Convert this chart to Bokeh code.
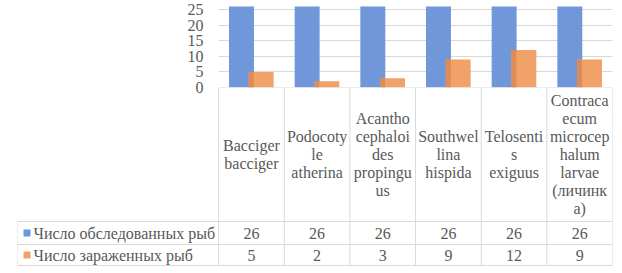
from bokeh.plotting import figure
from bokeh.models import ColumnDataSource, FactorRange, Range1d, FixedTicker
from bokeh.transform import dodge
from bokeh.layouts import column
from bokeh.embed import file_html
from bokeh.resources import INLINE
from bokeh.core.properties import value

# ---- data ----
categories = [
    "Bacciger bacciger",
    "Podocotyle atherina",
    "Acanthocephaloides propinguus",
    "Southwellina hispida",
    "Telosentis exiguus",
    "Contracaecum microcephalum larvae (личинка)",
]
table_labels = [
    "Bacciger\nbacciger",
    "Podocoty\nle\natherina",
    "Acantho\ncephaloi\ndes\npropingu\nus",
    "Southwel\nlina\nhispida",
    "Telosenti\ns\nexiguus",
    "Contraca\necum\nmicrocep\nhalum\nlarvae\n(личинк\na)",
]
series_names = ["Число обследованных рыб", "Число зараженных рыб"]
examined = [26, 26, 26, 26, 26, 26]
infected = [5, 2, 3, 9, 12, 9]
y_ticks = [0, 5, 10, 15, 20, 25]

# ---- style ----
BLUE = "#6f97da"
ORANGE = "#f1a269"
ORANGE_DARK = "#de8c57"
TEXT = "#595959"
GRID = "#d9d9d9"
FONT = "Liberation Serif"
FS = "16px"

W = 614
LEFT_COL_PX = 201      # width of series-label column
CAT_PX = 65.6
CHART_LEFT = 218
OVERLAP = 10           # px of p1's bottom border covered by the (transparent) table

src = ColumnDataSource(dict(cat=categories, examined=examined, infected=infected,
                            label=table_labels,
                            xc=[i + 0.5 for i in range(len(categories))],
                            s1=[str(v) for v in examined],
                            s2=[str(v) for v in infected]))

# ---- top: bar chart ----
p1 = figure(width=W, height=87 + OVERLAP, x_range=FactorRange(factors=categories),
            y_range=Range1d(0, 83 / 3.12), output_backend="svg",
            toolbar_location=None, x_axis_location=None,
            min_border_left=CHART_LEFT, min_border_right=2,
            min_border_top=4, min_border_bottom=OVERLAP, frame_align=False)
p1.outline_line_color = None
p1.xgrid.grid_line_color = None
p1.ygrid.grid_line_color = GRID
p1.yaxis.ticker = FixedTicker(ticks=y_ticks)
p1.yaxis.axis_line_color = None
p1.yaxis.major_tick_line_color = None
p1.yaxis.minor_tick_line_color = None
p1.yaxis.major_tick_out = 0
p1.yaxis.major_label_standoff = 15
p1.yaxis.major_label_text_font = FONT
p1.yaxis.major_label_text_font_size = FS
p1.yaxis.major_label_text_color = TEXT

BW = 0.38
OFF = 0.15
p1.vbar(x=dodge("cat", -OFF, range=p1.x_range), top="examined", width=BW,
        source=src, fill_color=BLUE, line_color=None)
p1.vbar(x=dodge("cat", OFF, range=p1.x_range), top="infected", width=BW,
        source=src, fill_color=ORANGE, line_color=None)
# darker shaded strip on the left edge of the orange bars (Excel shadow look)
strip = 5 / CAT_PX
p1.vbar(x=dodge("cat", OFF - BW / 2 + strip / 2, range=p1.x_range), top="infected",
        width=strip, source=src, fill_color=ORANGE_DARK, line_color=None)

# ---- bottom: data table ----
n = len(categories)
left = -LEFT_COL_PX / CAT_PX
H2 = 186
rows_y = [0, 134, 157, 178]   # header top, header bottom, row1 bottom, row2 bottom

p2 = figure(width=W, height=H2, x_range=Range1d(left, n), y_range=Range1d(H2, 0),
            output_backend="svg", toolbar_location=None,
            x_axis_location=None, y_axis_location=None,
            min_border_left=17, min_border_right=2, min_border_top=0, min_border_bottom=0,
            frame_align=False, styles={"margin-top": f"-{OVERLAP}px"})
p2.outline_line_color = None
p2.background_fill_color = None
p2.border_fill_color = None
p2.grid.visible = False

p2.segment(x0=list(range(n + 1)), x1=list(range(n + 1)),
           y0=[rows_y[0]] * (n + 1), y1=[rows_y[3]] * (n + 1),
           line_color=GRID, line_width=1)
p2.segment(x0=[left], x1=[left], y0=[rows_y[1]], y1=[rows_y[3]], line_color=GRID)
p2.segment(x0=[0], x1=[n], y0=[rows_y[0]], y1=[rows_y[0]], line_color=GRID)
p2.segment(x0=[left] * 3, x1=[n] * 3, y0=rows_y[1:], y1=rows_y[1:], line_color=GRID)

p2.text(x="xc", y=(rows_y[0] + rows_y[1]) / 2, text="label", source=src,
        text_align="center", text_baseline="middle", text_line_height=1.05,
        text_font=value(FONT), text_font_size=FS, text_color=TEXT)
y1c = (rows_y[1] + rows_y[2]) / 2
y2c = (rows_y[2] + rows_y[3]) / 2
p2.text(x="xc", y=y1c, text="s1", source=src, text_align="center", text_baseline="middle",
        text_font=value(FONT), text_font_size=FS, text_color=TEXT)
p2.text(x="xc", y=y2c, text="s2", source=src, text_align="center", text_baseline="middle",
        text_font=value(FONT), text_font_size=FS, text_color=TEXT)
px = 1 / CAT_PX
p2.scatter(x=[left + 9.5 * px] * 2, y=[y1c, y2c], marker="square", size=7,
           fill_color=[BLUE, ORANGE], line_color=None)
p2.text(x=[left + 16 * px] * 2, y=[y1c, y2c], text=series_names,
        text_align="left", text_baseline="middle",
        text_font=value(FONT), text_font_size=FS, text_color=TEXT)

layout = column(p1, p2)
open("out.html", "w").write(file_html(layout, INLINE))
